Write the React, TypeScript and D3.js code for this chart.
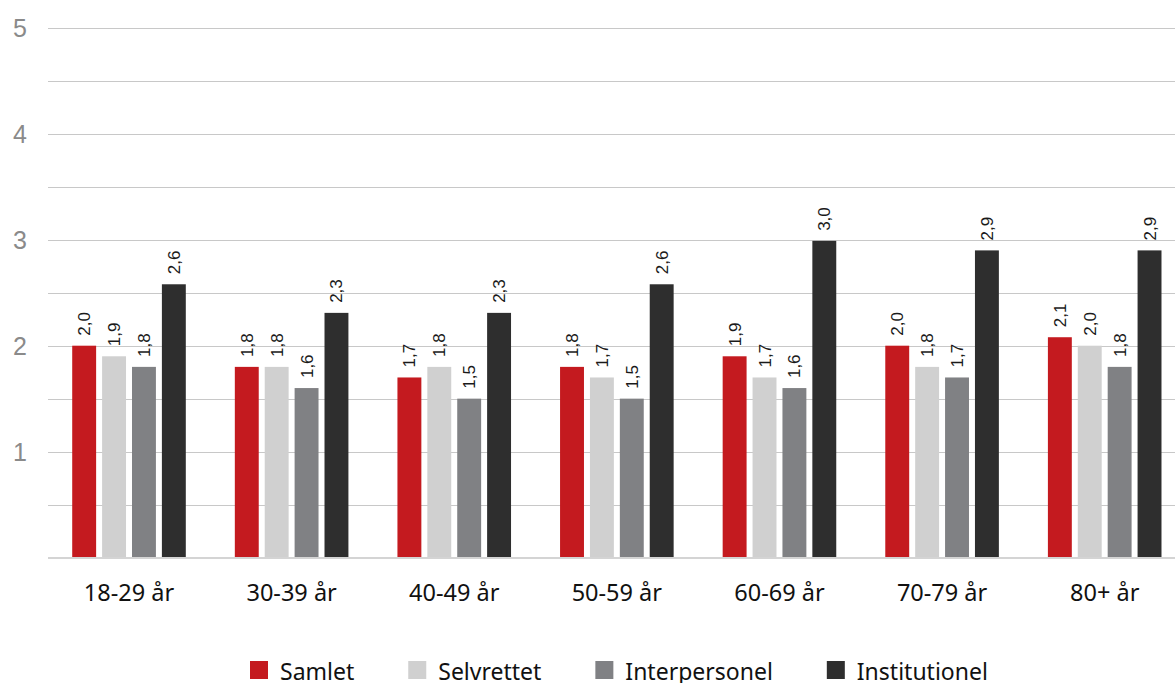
import React, { useEffect, useRef } from "react";
import * as d3 from "d3";

const categories = ["18-29 år", "30-39 år", "40-49 år", "50-59 år", "60-69 år", "70-79 år", "80+ år"];
const seriesNames = ["Samlet", "Selvrettet", "Interpersonel", "Institutionel"];
const samlet = [2.0, 1.8, 1.7, 1.8, 1.9, 2.0, 2.08];
const selvrettet = [1.9, 1.8, 1.8, 1.7, 1.7, 1.8, 2.0];
const interpersonel = [1.8, 1.6, 1.5, 1.5, 1.6, 1.7, 1.8];
const institutionel = [2.58, 2.31, 2.31, 2.58, 2.99, 2.9, 2.9];
const yTicks = [1, 2, 3, 4, 5];
const colors = ["#c41a1f", "#d0d0d0", "#808184", "#2e2e2e"];

export default function App() {
  const ref = useRef<SVGSVGElement>(null);
  useEffect(() => {
    const svg = d3.select(ref.current);
    svg.selectAll("*").remove();
    const W = 1175;
    const values = [samlet, selvrettet, interpersonel, institutionel];
    const x0 = d3.scaleBand<string>().domain(categories).range([47.7, 1186]).paddingInner(0).paddingOuter(0);
    const x1 = d3.scaleBand<string>().domain(seriesNames).range([0, x0.bandwidth()]).paddingInner(0.2).paddingOuter(0.82);
    const y = d3.scaleLinear().domain([0, 5]).range([557.5, 28]);

    const grid = d3.range(1, 11).map((d) => d / 2);
    svg.append("g").selectAll("line").data(grid).join("line")
      .attr("x1", 48).attr("x2", W)
      .attr("y1", (d) => Math.round(y(d)) + 0.5).attr("y2", (d) => Math.round(y(d)) + 0.5)
      .attr("stroke", "#c8c8c8").attr("stroke-width", 1);

    svg.append("g").selectAll("text").data(yTicks).join("text")
      .attr("x", 27).attr("y", (d) => y(d) + 9)
      .attr("text-anchor", "end")
      .attr("font-family", "'Liberation Sans', Arial, sans-serif")
      .attr("font-size", 25).attr("fill", "#8a8a8a")
      .text((d) => String(d));

    const groups = svg.append("g").selectAll("g").data(categories).join("g")
      .attr("transform", (c) => `translate(${x0(c)},0)`);

    seriesNames.forEach((s, si) => {
      groups.append("rect")
        .attr("x", x1(s)!)
        .attr("width", x1.bandwidth())
        .attr("y", (_c, i) => y(values[si][i]))
        .attr("height", (_c, i) => y(0) - y(values[si][i]))
        .attr("fill", colors[si]);
      groups.append("text")
        .attr("transform", (_c, i) => `translate(${x1(s)! + x1.bandwidth() / 2 + 6},${y(values[si][i]) - 10}) rotate(-90)`)
        .attr("text-anchor", "start")
        .attr("font-family", "'Liberation Sans', Arial, sans-serif")
        .attr("font-size", 17).attr("fill", "#1a1a1a")
        .text((_c, i) => values[si][i].toFixed(1).replace(".", ","));
    });

    svg.append("line").attr("x1", 48).attr("x2", W).attr("y1", y(0) + 0.5).attr("y2", y(0) + 0.5)
      .attr("stroke", "#d4d4d4").attr("stroke-width", 2);

    svg.append("g").selectAll("text").data(categories).join("text")
      .attr("x", (c) => x0(c)! + x0.bandwidth() / 2)
      .attr("y", 601)
      .attr("text-anchor", "middle")
      .attr("font-family", "'Noto Sans', sans-serif")
      .attr("font-size", 23.5).attr("fill", "#111")
      .text((c) => c);

    const legend = svg.append("g");
    let lx = 250;
    seriesNames.forEach((s, si) => {
      legend.append("rect").attr("x", lx).attr("y", 661).attr("width", 18).attr("height", 18).attr("fill", colors[si]);
      const t = legend.append("text").attr("x", lx + 30).attr("y", 680)
        .attr("font-family", "'Noto Sans', sans-serif").attr("font-size", 23).attr("fill", "#111").text(s);
      const w = (t.node() as SVGTextElement).getComputedTextLength();
      lx = lx + 30 + w + 54;
    });
  }, []);
  return (
    <svg ref={ref} width={1175} height={683} style={{ position: "absolute", left: 0, top: 0, background: "#fff" }} />
  );
}
